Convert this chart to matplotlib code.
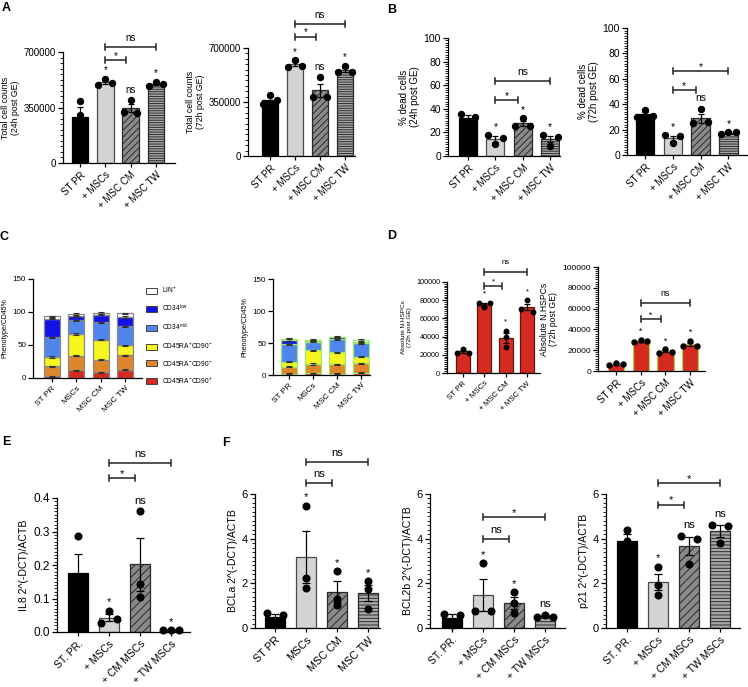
import numpy as np
import matplotlib
matplotlib.use('Agg')
import matplotlib.pyplot as plt
from matplotlib.ticker import MultipleLocator, AutoMinorLocator
from matplotlib.patches import Patch

plt.rcParams['font.family'] = ['Liberation Sans', 'DejaVu Sans']
plt.rcParams['mathtext.default'] = 'regular'
plt.rcParams['hatch.linewidth'] = 0.7

# ---------------- data ----------------
lab_plus = ['ST PR', '+ MSCs', '+ MSC CM', '+ MSC TW']
lab_plain = ['ST PR', 'MSCs', 'MSC CM', 'MSC TW']
lab_dot = ['ST. PR.', '+ MSCs', '+ CM MSCs', '+ TW MSCs']

# A - total cell counts, 3 replicates per group
a24 = [[390000, 305000, 181000], [492000, 532000, 503000],
       [319000, 397000, 318000], [486000, 513000, 496000]]
a72 = [[335000, 395000, 360000], [579000, 622000, 583000],
       [384000, 510000, 385000], [546000, 585000, 542000]]
# B - % dead cells
b24 = [[28.6, 35.6, 33.3], [17.8, 9.9, 15.5], [25.4, 31.9, 25.7], [17.8, 8.8, 16.4]]
b72 = [[30, 35.5, 31], [15.5, 9.5, 15], [25, 36.3, 25.8], [16.5, 18, 18]]
# C - phenotype / CD45 % (stacked, bottom to top)
c_names = ['CD45RA$^{-}$CD90$^{+}$', 'CD45RA$^{-}$CD90$^{-}$', 'CD45RA$^{+}$CD90$^{-}$',
           'CD34$^{mid}$', 'CD34$^{low}$', 'LIN$^{+}$']
c24 = [[2.5, 11.6, 8.6, 12.6],
       [15.2, 22.2, 19.2, 21.7],
       [14.1, 32.9, 30.3, 15.2],
       [29.8, 20.7, 26.2, 28.8],
       [28.3, 6.0, 11.7, 14.1],
       [3.5, 3.6, 2.5, 5.6]]
c72 = [[1.6, 2.6, 2.1, 3.6],
       [11.4, 14.6, 14.6, 14.6],
       [7.8, 21.8, 18.7, 10.4],
       [27.6, 13.0, 20.3, 20.9],
       [6.3, 1.6, 3.2, 2.5],
       [1.6, 1.1, 1.0, 2.7]]
c_err = 0.8
# D - absolute number of HSPCs
d1 = [[22500, 26500, 22500], [77300, 72500, 77300], [46500, 40000, 29000], [70700, 79900, 67000]]
d2 = [[6100, 8000, 6400], [27900, 30100, 28800], [17600, 20800, 18300], [24000, 28800, 24000]]
# E - IL8 expression
e_il8 = [[0.286, 0.14, 0.105], [0.027, 0.063, 0.039], [0.36, 0.144, 0.103], [0.005, 0.005, 0.005]]
# F - BCLa, BCL2b, p21 expression
f_bcla = [[0.67, 0.17, 0.6], [5.48, 2.24, 1.79], [2.54, 1.3, 1.04], [2.09, 1.75, 0.85]]
f_bcl2b = [[0.63, 0.15, 0.6], [0.74, 2.9, 0.77], [1.59, 1.12, 0.67], [0.49, 0.6, 0.49]]
f_p21 = [[4.4, 3.9, 3.45], [2.75, 1.92, 1.5], [4.13, 2.85, 3.99], [4.62, 3.8, 4.58]]

# significance marks above each bar and comparison brackets (from, to, height, text)
marks_a24 = ['', '*', 'ns', '*']
marks_a72 = ['', '*', 'ns', '*']
marks_b24 = ['', '*', '*', '*']
marks_b72 = ['', '*', 'ns', '*']
marks_d = ['', '*', '*', '*']
marks_e = ['', '*', 'ns', '*']
marks_f1 = ['', '*', '*', '*']
marks_f2 = ['', '*', '*', 'ns']
marks_f3 = ['', '*', 'ns', 'ns']
br_a24 = [(1, 3, 733000, 'ns'), (1, 2, 650000, '*')]
br_a72 = [(1, 3, 855000, 'ns'), (1, 2, 773000, '*')]
br_b24 = [(1, 3, 63.6, 'ns'), (1, 2, 47.5, '*')]
br_b72 = [(1, 3, 66.3, '*'), (1, 2, 51.3, '*')]
br_d1 = [(1, 3, 111000, 'ns'), (1, 2, 95200, '*')]
br_d2 = [(1, 3, 65700, 'ns'), (1, 2, 49700, '*')]
br_e = [(1, 3, 0.504, 'ns'), (1, 2, 0.46, '*')]
br_f1 = [(1, 3, 7.42, 'ns'), (1, 2, 6.49, 'ns')]
br_f2 = [(1, 3, 4.95, '*'), (1, 2, 3.97, 'ns')]
br_f3 = [(1, 3, 6.5, '*'), (1, 2, 5.52, '*')]

# ---------------- figure ----------------
W, H = 748, 687
fig = plt.figure(figsize=(W / 100, H / 100), dpi=100)

C_COLORS = ['#d62a1c', '#e0862a', '#f6f61e', '#4f86ee', '#1212e6', 'white']


def make_ax(x0, x1, ytop, ybot, c0, step, ylim):
    # axes placed in pixel coordinates of the original figure
    ax = fig.add_axes([x0 / W, 1 - ybot / H, (x1 - x0) / W, (ybot - ytop) / H])
    ax.set_xlim((x0 - c0) / step, (x1 - c0) / step)
    ax.set_ylim(*ylim)
    ax.spines[['top', 'right']].set_visible(False)
    ax.spines[['left', 'bottom']].set_linewidth(0.9)
    ax.px = (ylim[1] - ylim[0]) / (ybot - ytop)
    return ax


def spread(vals, thr, d=0.27):
    # horizontal scatter of replicate dots that would overlap
    vals = np.asarray(vals, float)
    order = np.argsort(vals, kind='stable')
    groups = [[order[0]]]
    for k in order[1:]:
        if vals[k] - vals[groups[-1][-1]] < thr:
            groups[-1].append(k)
        else:
            groups.append([k])
    offs = np.zeros(len(vals))
    for g in groups:
        g = sorted(g)
        if len(g) == 2:
            pos = [-d, d]
        elif len(g) > 2:
            pos = np.linspace(-d, d, len(g))
        else:
            pos = [0]
        for k, o in zip(g, pos):
            offs[k] = o
    return offs


def axis_style(ax, labels, ylabel, major, minor, fs_tick, fs_x, fs_lab, labelpad=3):
    ax.set_xticks(range(len(labels)))
    ax.set_xticklabels(labels, rotation=45, ha='right', rotation_mode='anchor', fontsize=fs_x)
    ax.yaxis.set_major_locator(MultipleLocator(major))
    if minor:
        ax.yaxis.set_minor_locator(AutoMinorLocator(minor))
    ax.tick_params(axis='x', length=3, width=0.9, pad=2)
    ax.tick_params(axis='y', which='major', length=3.5, width=0.9, pad=1.5, labelsize=fs_tick)
    ax.tick_params(axis='y', which='minor', length=2, width=0.6)
    ax.set_ylabel(ylabel, fontsize=fs_lab, labelpad=labelpad, linespacing=1.1)


def bar_panel(ax, pts, marks, brackets, fs_mark, ms=4.3, cap=2.5,
              hatches=('/////', '-------'), red_edge=None):
    means = np.array([np.mean(p) for p in pts])
    sems = np.array([np.std(p, ddof=1) / np.sqrt(len(p)) for p in pts])
    x = np.arange(len(pts))
    if red_edge is None:
        styles = [dict(color='black', edgecolor='black'),
                  dict(color='#d3d3d3', edgecolor='#4a4a4a'),
                  dict(color='#8a8a8a', edgecolor='#2a2a2a', hatch=hatches[0]),
                  dict(color='#a9a9a9', edgecolor='#2a2a2a', hatch=hatches[1])]
    else:
        styles = [dict(color='#d42a1f', edgecolor=red_edge)] * 4
    for i in x:
        ax.bar(i, means[i], width=0.66, linewidth=0.9, zorder=2, **styles[i])
    ax.errorbar(x, means, yerr=sems, fmt='none', ecolor='black', elinewidth=0.9,
                capsize=cap, capthick=0.9, zorder=3)
    thr = 5 * ax.px
    for i, p in enumerate(pts):
        ax.plot(i + spread(p, thr), p, 'o', color='black', ms=ms, zorder=4, clip_on=False)
    for i, t in enumerate(marks):
        if t:
            top = max(max(pts[i]), means[i] + sems[i])
            ax.annotate(t, (i, top), xytext=(0, 6 if t == '*' else 7.5), textcoords='offset points',
                        ha='center', va='center', fontsize=fs_mark, annotation_clip=False)
    for i, j, y, t in brackets:
        xe = j if j - i > 1 else j - 0.17
        dy = 3 * ax.px
        ax.plot([i, xe], [y, y], color='#222222', lw=1.1, clip_on=False, solid_capstyle='butt')
        for xx in (i, xe):
            ax.plot([xx, xx], [y - dy, y + dy], color='#222222', lw=1.1, clip_on=False)
        ax.annotate(t, ((i + xe) / 2, y), xytext=(0, 3 if t == '*' else 6.5), textcoords='offset points',
                    ha='center', va='center', fontsize=fs_mark, annotation_clip=False)


def stack_panel(ax, segs, edge):
    x = np.arange(len(segs[0]))
    bottom = np.zeros(len(x))
    for vals, col in zip(segs, C_COLORS):
        vals = np.asarray(vals)
        ax.bar(x, vals, bottom=bottom, width=0.66, color=col, edgecolor=edge, linewidth=0.9, zorder=2)
        bottom = bottom + vals
        ax.errorbar(x, bottom, yerr=c_err, fmt='none', ecolor='#333333', elinewidth=0.8,
                    capsize=2.5, capthick=0.8, zorder=3)


# ---- A ----
ax = make_ax(63, 175, 52, 163, 80, 25.3, (0, 700000))
bar_panel(ax, a24, marks_a24, br_a24, 7)
axis_style(ax, lab_plus, 'Total cell counts\n(24h post GE)', 350000, 10, 7, 7, 6.3)

ax = make_ax(248, 355, 48, 156, 270, 25, (0, 700000))
bar_panel(ax, a72, marks_a72, br_a72, 7)
axis_style(ax, lab_plus, 'Total cell counts\n(72h post GE)', 350000, 10, 7, 7, 6.3)

# ---- B ----
ax = make_ax(448, 560, 38, 156, 468, 27.4, (0, 100))
bar_panel(ax, b24, marks_b24, br_b24, 7.5)
axis_style(ax, lab_plus, '% dead cells\n(24h post GE)', 20, 10, 7.5, 7, 7)

ax = make_ax(627, 747, 28, 155, 645, 27.8, (0, 100))
bar_panel(ax, b72, marks_b72, br_b72, 7.5)
axis_style(ax, lab_plus, '% dead cells\n(72h post GE)', 20, 10, 7.5, 7, 7)

# ---- C ----
ax = make_ax(33, 142, 279, 378, 52, 24.4, (0, 150))
stack_panel(ax, c24, '#8a8a8a')
axis_style(ax, lab_plain, 'Phenotype/CD45%', 50, None, 5.8, 6, 5)

ax = make_ax(273, 370, 279, 375, 289, 24, (0, 150))
stack_panel(ax, c72, '#9be86a')
axis_style(ax, lab_plain, 'Phenotype/CD45%', 50, None, 5.8, 6, 5)

handles = [Patch(facecolor=c, edgecolor='#444444', linewidth=0.7) for c in C_COLORS][::-1]
fig.legend(handles, c_names[::-1], loc='upper left', bbox_to_anchor=(143 / W, 1 - 282 / H),
           frameon=False, fontsize=4.8, handlelength=1.7, handleheight=1.0,
           labelspacing=1.15, handletextpad=0.8, borderaxespad=0)

# ---- D ----
ax = make_ax(447, 540, 282, 373, 463, 21.3, (0, 100000))
bar_panel(ax, d1, marks_d, br_d1, 5.5, ms=3.2, cap=2, red_edge='#5a1a12')
axis_style(ax, lab_plus, 'Absolute N.HSPCs\n(72h post GE)', 20000, 10, 5.2, 5.7, 4.6)

ax = make_ax(598, 705, 267, 371, 616, 24.7, (0, 100000))
bar_panel(ax, d2, marks_d, br_d2, 6.2, ms=3.6, cap=2, red_edge='#a6d84a')
axis_style(ax, lab_plus, 'Absolute N.HSPCs\n(72h post GE)', 20000, 10, 6, 7, 6.2)

# ---- E ----
ax = make_ax(57, 190, 498, 632, 78, 31, (0, 0.4))
bar_panel(ax, e_il8, marks_e, br_e, 8, ms=4.8, cap=3, hatches=('////', '-----'))
axis_style(ax, lab_dot, 'IL8 2^(-DCT)/ACTB', 0.1, 10, 8.5, 7.5, 7.6)

# ---- F ----
ax = make_ax(255, 380, 494, 628, 275, 31, (0, 6))
bar_panel(ax, f_bcla, marks_f1, br_f1, 8, ms=4.8, cap=3, hatches=('////', '-----'))
axis_style(ax, lab_plain, 'BCLa 2^(-DCT)/ACTB', 2, 10, 8, 7.8, 7.6)

ax = make_ax(430, 565, 494, 628, 452, 31, (0, 6))
bar_panel(ax, f_bcl2b, marks_f2, br_f2, 8, ms=4.8, cap=3, hatches=('////', '-----'))
axis_style(ax, lab_dot, 'BCL2b 2^(-DCT)/ACTB', 2, 10, 8, 7.5, 7.6)

ax = make_ax(606, 740, 494, 628, 627, 31, (0, 6))
bar_panel(ax, f_p21, marks_f3, br_f3, 8, ms=4.8, cap=3, hatches=('////', '-----'))
axis_style(ax, lab_dot, 'p21 2^(-DCT)/ACTB', 2, 10, 8, 7.5, 7.6)

# panel letters
for t, x, y in [('A', 2, 2), ('B', 387, 4), ('C', 0, 231), ('D', 387, 230), ('E', 2, 436), ('F', 222, 437)]:
    fig.text(x / W, 1 - y / H, t, fontsize=9, fontweight='bold', va='top', ha='left')

fig.savefig('out.png', dpi=100)
